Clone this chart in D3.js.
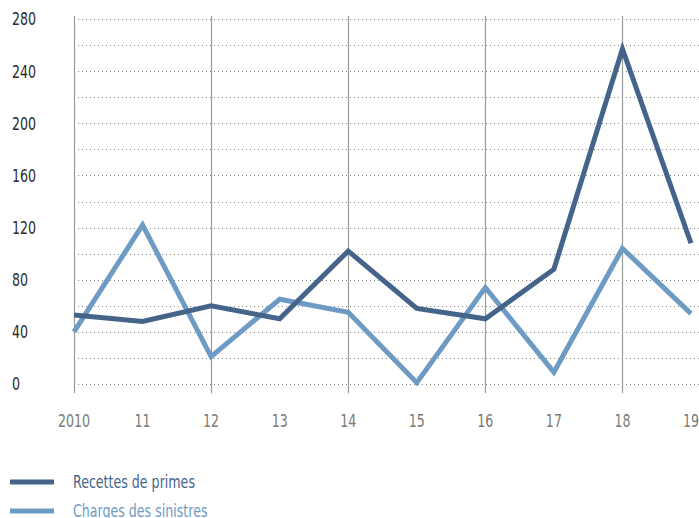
<!DOCTYPE html>
<meta charset="utf-8">
<head>
<style>
body { margin: 0; background: #fff; }
text { font-family: "DejaVu Sans Condensed", "Liberation Sans", sans-serif; font-size: 18px; }
.grid line { stroke: #808080; stroke-width: 1; stroke-dasharray: 1,3; }
.vline { stroke: #9a9a96; stroke-width: 1.2; }
.series { fill: none; stroke-width: 5; stroke-linejoin: miter; }
</style>
</head>
<body>
<div id="chart"></div>
<script src="https://d3js.org/d3.v7.min.js"></script>
<script>
// data
var years = ["2010", "11", "12", "13", "14", "15", "16", "17", "18", "19"];
var primes = [53, 48, 60, 50, 102, 58, 50, 88, 257, 108];
var sinistres = [40, 122, 21, 65, 55, 1, 74, 9, 104, 54];
var yTicks = [0, 40, 80, 120, 160, 200, 240, 280];
var seriesNames = ["Recettes de primes", "Charges des sinistres"];
var colors = ["#44648a", "#6e9bc4"];

var W = 699, H = 518;
var squeeze = 0.78; // condensed look for the labels

var svg = d3.select("#chart").append("svg")
    .attr("width", W)
    .attr("height", H);

var x = d3.scalePoint()
    .domain(years)
    .range([74, 691]);

var y = d3.scaleLinear()
    .domain([0, 280])
    .range([384, 19]);

// dotted horizontal grid every 20
svg.append("g")
    .attr("class", "grid")
  .selectAll("line")
  .data(d3.range(0, 281, 20))
  .enter().append("line")
    .attr("x1", 74)
    .attr("x2", W)
    .attr("y1", function(d) { return Math.round(y(d)) + 0.5; })
    .attr("y2", function(d) { return Math.round(y(d)) + 0.5; });

// solid vertical lines every other year
svg.append("g")
  .selectAll("line")
  .data(years.filter(function(d, i) { return i % 2 == 0; }))
  .enter().append("line")
    .attr("class", "vline")
    .attr("x1", function(d) { return Math.round(x(d)) + 0.5; })
    .attr("x2", function(d) { return Math.round(x(d)) + 0.5; })
    .attr("y1", 16)
    .attr("y2", 393);

// y labels
svg.append("g")
  .selectAll("text")
  .data(yTicks)
  .enter().append("text")
    .attr("transform", function(d) { return "translate(12," + y(d) + ") scale(" + squeeze + ",1)"; })
    .attr("dy", "0.36em")
    .style("fill", "#2b2b2b")
    .text(function(d) { return d; });

// x labels
svg.append("g")
  .selectAll("text")
  .data(years)
  .enter().append("text")
    .attr("transform", function(d) { return "translate(" + x(d) + ",421) scale(" + squeeze + ",1)"; })
    .attr("dy", "0.36em")
    .attr("text-anchor", "middle")
    .style("fill", "#7a7a76")
    .text(function(d) { return d; });

var line = d3.line()
    .x(function(d, i) { return x(years[i]); })
    .y(function(d) { return y(d); });

[sinistres, primes].forEach(function(s) {
  var idx = s === primes ? 0 : 1;
  svg.append("path")
      .datum(s)
      .attr("class", "series")
      .attr("d", line)
      .style("stroke", colors[idx]);
});

// legend
var legend = svg.selectAll(".legend")
  .data(seriesNames)
  .enter().append("g")
    .attr("class", "legend")
    .attr("transform", function(d, i) { return "translate(0," + (482 + i * 29) + ")"; });

legend.append("rect")
    .attr("x", 10)
    .attr("y", -2.5)
    .attr("width", 44)
    .attr("height", 5)
    .style("fill", function(d, i) { return colors[i]; });

legend.append("text")
    .attr("transform", "translate(73,0) scale(" + squeeze + ",1)")
    .attr("dy", "0.36em")
    .style("fill", function(d, i) { return colors[i]; })
    .text(function(d) { return d; });
</script>
</body>
